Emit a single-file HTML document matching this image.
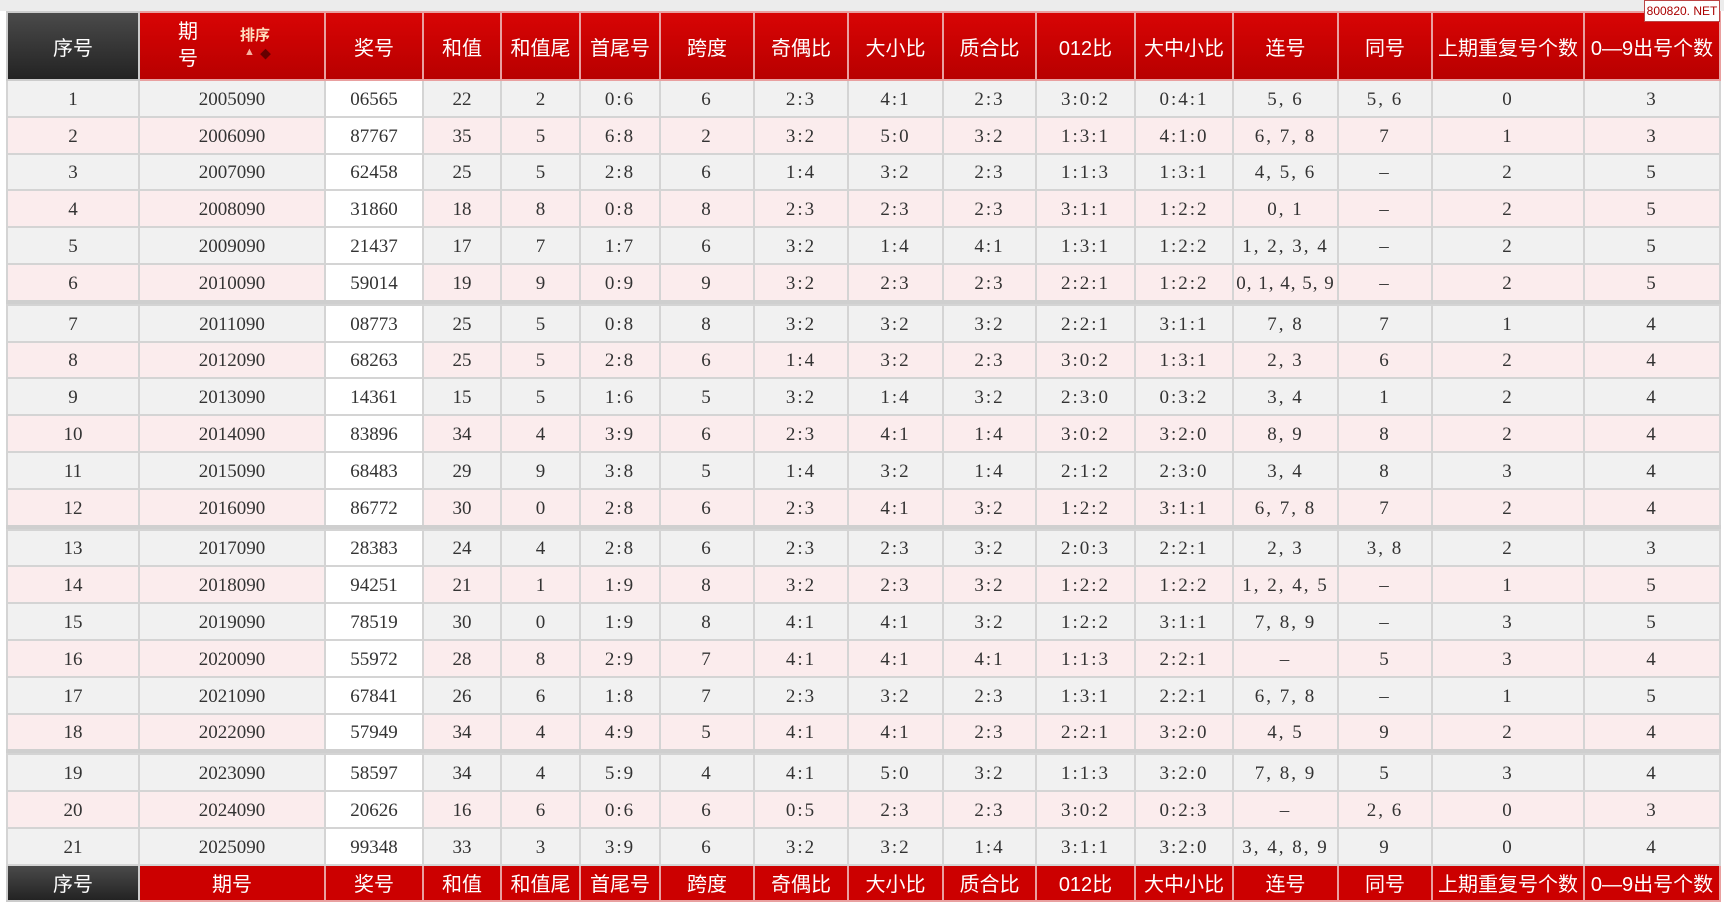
<!DOCTYPE html>
<html><head><meta charset="utf-8"><style>
html,body{margin:0;padding:0;background:#fff;width:1724px;height:908px;overflow:hidden}
.top{position:absolute;left:0;top:0;width:1724px;height:11px;background:#ececec}
.wm{position:absolute;left:1644px;top:0;width:74px;height:20px;border:1px solid #b44;background:#fff;font:12px "Liberation Sans",sans-serif;color:#a00;text-align:center;line-height:20px;z-index:2;white-space:nowrap}
table{position:absolute;left:6px;top:11px;border-collapse:collapse;table-layout:fixed;width:1712px}
td{padding:0;text-align:center;border:2px solid #d4d4d4;font:19px "Liberation Serif","Noto Serif CJK SC",serif;color:#333;letter-spacing:2px;white-space:nowrap;overflow:hidden;padding-top:3px}
tr td:nth-child(-n+5){letter-spacing:0}
tr.o td{background:#f1f1f1;height:31.8px}
tr.e td{background:#fbeced;height:31.8px}
tr td:nth-child(3){background:#fff}
tr.s td{height:0;border:0;border-top:4px solid #cfcfcf;padding:0}
tr.h td{height:66px;padding:0;background:linear-gradient(#d80404,#b80000);color:#fff;font:20px "Liberation Sans","Noto Sans CJK SC",sans-serif;border-color:#e9a0a0;letter-spacing:0}
tr.h td:first-child,tr.f td:first-child{background:linear-gradient(#4a4a4a,#232323);border-color:#ccc}
tr.f td{height:34px;padding:0;background:#cc0000;color:#fff;font:20px "Liberation Sans","Noto Sans CJK SC",sans-serif;border-color:#e9a0a0;letter-spacing:0}
.qh{position:relative;height:66px}
.qh .a{position:absolute;left:38px;top:6px;line-height:27px;font-size:20px}
.qh .b{position:absolute;left:100px;top:11px;font-size:15px;font-weight:bold;color:#ffe0c0}
.qh .c{position:absolute;left:104px;top:33px;font-size:11px;color:#f7b0a0}
.qh .d{position:absolute;left:120px;top:33px;font-size:11px;color:#600}
</style></head><body>
<div class="top"></div><div class="wm">800820. NET</div>
<table>
<colgroup><col style="width:132px"><col style="width:186px"><col style="width:98px"><col style="width:78px"><col style="width:79px"><col style="width:80px"><col style="width:94px"><col style="width:94px"><col style="width:95px"><col style="width:93px"><col style="width:99px"><col style="width:98px"><col style="width:105px"><col style="width:94px"><col style="width:152px"><col style="width:136px"></colgroup>
<tr class="h"><td>序号</td><td><div class="qh"><div class="a">期<br>号</div><div class="b">排序</div><div class="c">▲</div><div class="d">◆</div></div></td><td>奖号</td><td>和值</td><td>和值尾</td><td>首尾号</td><td>跨度</td><td>奇偶比</td><td>大小比</td><td>质合比</td><td>012比</td><td>大中小比</td><td>连号</td><td>同号</td><td>上期重复号个数</td><td>0—9出号个数</td></tr>
<tr class="o"><td>1</td><td>2005090</td><td>06565</td><td>22</td><td>2</td><td>0:6</td><td>6</td><td>2:3</td><td>4:1</td><td>2:3</td><td>3:0:2</td><td>0:4:1</td><td>5, 6</td><td>5, 6</td><td>0</td><td>3</td></tr>
<tr class="e"><td>2</td><td>2006090</td><td>87767</td><td>35</td><td>5</td><td>6:8</td><td>2</td><td>3:2</td><td>5:0</td><td>3:2</td><td>1:3:1</td><td>4:1:0</td><td>6, 7, 8</td><td>7</td><td>1</td><td>3</td></tr>
<tr class="o"><td>3</td><td>2007090</td><td>62458</td><td>25</td><td>5</td><td>2:8</td><td>6</td><td>1:4</td><td>3:2</td><td>2:3</td><td>1:1:3</td><td>1:3:1</td><td>4, 5, 6</td><td>–</td><td>2</td><td>5</td></tr>
<tr class="e"><td>4</td><td>2008090</td><td>31860</td><td>18</td><td>8</td><td>0:8</td><td>8</td><td>2:3</td><td>2:3</td><td>2:3</td><td>3:1:1</td><td>1:2:2</td><td>0, 1</td><td>–</td><td>2</td><td>5</td></tr>
<tr class="o"><td>5</td><td>2009090</td><td>21437</td><td>17</td><td>7</td><td>1:7</td><td>6</td><td>3:2</td><td>1:4</td><td>4:1</td><td>1:3:1</td><td>1:2:2</td><td>1, 2, 3, 4</td><td>–</td><td>2</td><td>5</td></tr>
<tr class="e"><td>6</td><td>2010090</td><td>59014</td><td>19</td><td>9</td><td>0:9</td><td>9</td><td>3:2</td><td>2:3</td><td>2:3</td><td>2:2:1</td><td>1:2:2</td><td style="letter-spacing:1px">0, 1, 4, 5, 9</td><td>–</td><td>2</td><td>5</td></tr>
<tr class="s"><td colspan="16"></td></tr>
<tr class="o"><td>7</td><td>2011090</td><td>08773</td><td>25</td><td>5</td><td>0:8</td><td>8</td><td>3:2</td><td>3:2</td><td>3:2</td><td>2:2:1</td><td>3:1:1</td><td>7, 8</td><td>7</td><td>1</td><td>4</td></tr>
<tr class="e"><td>8</td><td>2012090</td><td>68263</td><td>25</td><td>5</td><td>2:8</td><td>6</td><td>1:4</td><td>3:2</td><td>2:3</td><td>3:0:2</td><td>1:3:1</td><td>2, 3</td><td>6</td><td>2</td><td>4</td></tr>
<tr class="o"><td>9</td><td>2013090</td><td>14361</td><td>15</td><td>5</td><td>1:6</td><td>5</td><td>3:2</td><td>1:4</td><td>3:2</td><td>2:3:0</td><td>0:3:2</td><td>3, 4</td><td>1</td><td>2</td><td>4</td></tr>
<tr class="e"><td>10</td><td>2014090</td><td>83896</td><td>34</td><td>4</td><td>3:9</td><td>6</td><td>2:3</td><td>4:1</td><td>1:4</td><td>3:0:2</td><td>3:2:0</td><td>8, 9</td><td>8</td><td>2</td><td>4</td></tr>
<tr class="o"><td>11</td><td>2015090</td><td>68483</td><td>29</td><td>9</td><td>3:8</td><td>5</td><td>1:4</td><td>3:2</td><td>1:4</td><td>2:1:2</td><td>2:3:0</td><td>3, 4</td><td>8</td><td>3</td><td>4</td></tr>
<tr class="e"><td>12</td><td>2016090</td><td>86772</td><td>30</td><td>0</td><td>2:8</td><td>6</td><td>2:3</td><td>4:1</td><td>3:2</td><td>1:2:2</td><td>3:1:1</td><td>6, 7, 8</td><td>7</td><td>2</td><td>4</td></tr>
<tr class="s"><td colspan="16"></td></tr>
<tr class="o"><td>13</td><td>2017090</td><td>28383</td><td>24</td><td>4</td><td>2:8</td><td>6</td><td>2:3</td><td>2:3</td><td>3:2</td><td>2:0:3</td><td>2:2:1</td><td>2, 3</td><td>3, 8</td><td>2</td><td>3</td></tr>
<tr class="e"><td>14</td><td>2018090</td><td>94251</td><td>21</td><td>1</td><td>1:9</td><td>8</td><td>3:2</td><td>2:3</td><td>3:2</td><td>1:2:2</td><td>1:2:2</td><td>1, 2, 4, 5</td><td>–</td><td>1</td><td>5</td></tr>
<tr class="o"><td>15</td><td>2019090</td><td>78519</td><td>30</td><td>0</td><td>1:9</td><td>8</td><td>4:1</td><td>4:1</td><td>3:2</td><td>1:2:2</td><td>3:1:1</td><td>7, 8, 9</td><td>–</td><td>3</td><td>5</td></tr>
<tr class="e"><td>16</td><td>2020090</td><td>55972</td><td>28</td><td>8</td><td>2:9</td><td>7</td><td>4:1</td><td>4:1</td><td>4:1</td><td>1:1:3</td><td>2:2:1</td><td>–</td><td>5</td><td>3</td><td>4</td></tr>
<tr class="o"><td>17</td><td>2021090</td><td>67841</td><td>26</td><td>6</td><td>1:8</td><td>7</td><td>2:3</td><td>3:2</td><td>2:3</td><td>1:3:1</td><td>2:2:1</td><td>6, 7, 8</td><td>–</td><td>1</td><td>5</td></tr>
<tr class="e"><td>18</td><td>2022090</td><td>57949</td><td>34</td><td>4</td><td>4:9</td><td>5</td><td>4:1</td><td>4:1</td><td>2:3</td><td>2:2:1</td><td>3:2:0</td><td>4, 5</td><td>9</td><td>2</td><td>4</td></tr>
<tr class="s"><td colspan="16"></td></tr>
<tr class="o"><td>19</td><td>2023090</td><td>58597</td><td>34</td><td>4</td><td>5:9</td><td>4</td><td>4:1</td><td>5:0</td><td>3:2</td><td>1:1:3</td><td>3:2:0</td><td>7, 8, 9</td><td>5</td><td>3</td><td>4</td></tr>
<tr class="e"><td>20</td><td>2024090</td><td>20626</td><td>16</td><td>6</td><td>0:6</td><td>6</td><td>0:5</td><td>2:3</td><td>2:3</td><td>3:0:2</td><td>0:2:3</td><td>–</td><td>2, 6</td><td>0</td><td>3</td></tr>
<tr class="o"><td>21</td><td>2025090</td><td>99348</td><td>33</td><td>3</td><td>3:9</td><td>6</td><td>3:2</td><td>3:2</td><td>1:4</td><td>3:1:1</td><td>3:2:0</td><td>3, 4, 8, 9</td><td>9</td><td>0</td><td>4</td></tr>
<tr class="f"><td>序号</td><td>期号</td><td>奖号</td><td>和值</td><td>和值尾</td><td>首尾号</td><td>跨度</td><td>奇偶比</td><td>大小比</td><td>质合比</td><td>012比</td><td>大中小比</td><td>连号</td><td>同号</td><td>上期重复号个数</td><td>0—9出号个数</td></tr>
</table>
</body></html>
